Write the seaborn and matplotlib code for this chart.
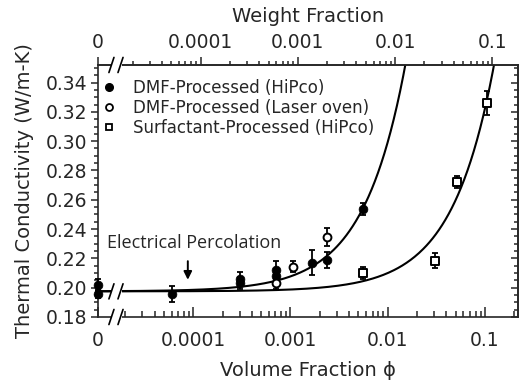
import numpy as np
import pandas as pd
import matplotlib
matplotlib.use("Agg")
import matplotlib.pyplot as plt
from matplotlib.lines import Line2D
from matplotlib.patches import Rectangle
from matplotlib.ticker import FixedLocator, NullFormatter
import seaborn as sns

# values (volume fraction, conductivity W/m-K, error)
dmf_hipco_phi = [0, 0, 6.0e-5, 3.0e-4, 3.0e-4, 7.1e-4, 7.1e-4, 1.66e-3, 2.37e-3, 5.62e-3]
dmf_hipco_k = [0.2019, 0.1957, 0.1957, 0.2060, 0.2030, 0.2120, 0.2080, 0.2170, 0.2189, 0.2536]
dmf_hipco_err = [0.004, 0.003, 0.0055, 0.005, 0.004, 0.006, 0.005, 0.0085, 0.0055, 0.004]

laser_phi = [7.1e-4, 1.07e-3, 2.37e-3]
laser_k = [0.2030, 0.2144, 0.2344]
laser_err = [0.004, 0.004, 0.006]

surf_phi = [5.62e-3, 0.0307, 0.052, 0.1045]
surf_k = [0.2098, 0.2185, 0.272, 0.326]
surf_err = [0.004, 0.005, 0.004, 0.008]

# linear fits k = k0 + a*phi
fit_k0 = 0.1975
fit_slope_dmf = 10.2
fit_slope_surf = 1.25

x_ticklabels = ['0', '0.0001', '0.001', '0.01', '0.1']
y_ticks = [0.18, 0.20, 0.22, 0.24, 0.26, 0.28, 0.30, 0.32, 0.34]

phi_zero = 1.05e-5    # where "0" sits on the broken log axis
phi_max = 0.218
wt_ratio = 1.19       # volume fraction / weight fraction
percolation_phi = 8.8e-5

sns.set_style("ticks")
plt.rcParams['font.family'] = ['DejaVu Sans']
plt.rcParams['axes.linewidth'] = 1.2

fig = plt.figure(figsize=(5.21, 3.87), dpi=100)
ax = fig.add_axes([0.1881, 0.1809, 0.8061, 0.6512])
ax.set_xscale('log')
ax.set_xlim(phi_zero, phi_max)
ax.set_ylim(0.18, 0.352)

def xpos(p):
    p = np.asarray(p, dtype=float)
    return np.where(p == 0, phi_zero, p)

# fit curves
phi_line = np.logspace(np.log10(phi_zero), np.log10(phi_max), 400)
sns.lineplot(x=phi_line, y=fit_k0 + fit_slope_dmf * phi_line, color='black', lw=1.5, ax=ax)
sns.lineplot(x=phi_line, y=fit_k0 + fit_slope_surf * phi_line, color='black', lw=1.5, ax=ax)

# error bars + markers
for p, k, e in [(dmf_hipco_phi, dmf_hipco_k, dmf_hipco_err),
                (laser_phi, laser_k, laser_err),
                (surf_phi, surf_k, surf_err)]:
    ax.errorbar(xpos(p), k, yerr=e, fmt='none', ecolor='black', elinewidth=1.3,
                capsize=2.5, capthick=1.3, clip_on=False, zorder=3)

sns.scatterplot(x=xpos(dmf_hipco_phi), y=dmf_hipco_k, marker='o', s=40, color='black',
                edgecolor='black', ax=ax, clip_on=False, zorder=4)
sns.scatterplot(x=xpos(laser_phi), y=laser_k, marker='o', s=32, color='white',
                edgecolor='black', linewidth=1.4, ax=ax, clip_on=False, zorder=4)
sns.scatterplot(x=xpos(surf_phi), y=surf_k, marker='s', s=32, color='white',
                edgecolor='black', linewidth=1.4, ax=ax, clip_on=False, zorder=4)

# axis break marks
def break_mark(yfrac):
    ax.add_patch(Rectangle((0.030, yfrac - 0.016), 0.026, 0.032, transform=ax.transAxes,
                           facecolor='white', edgecolor='none', clip_on=False, zorder=5))
    for xc in (0.032, 0.0536):
        ax.plot([xc - 0.006, xc + 0.006], [yfrac - 0.030, yfrac + 0.030], color='black',
                lw=1.2, transform=ax.transAxes, clip_on=False, zorder=6)

break_mark(0.0)
break_mark(1.0)
break_mark((fit_k0 - 0.18) / (0.352 - 0.18))

# bottom axis
minor_phi = [m * 10.0 ** d for d in range(-5, 0) for m in range(2, 10)
             if 1.9e-5 < m * 10.0 ** d < phi_max]
ax.set_xticks([phi_zero, 1e-4, 1e-3, 1e-2, 1e-1])
ax.set_xticklabels(x_ticklabels)
ax.xaxis.set_minor_locator(FixedLocator(minor_phi))
ax.xaxis.set_minor_formatter(NullFormatter())
ax.tick_params(axis='x', which='both', direction='in', top=False, bottom=True,
               labelsize=13.5, pad=10, width=1.1)
ax.tick_params(axis='x', which='major', length=7)
ax.tick_params(axis='x', which='minor', length=4)

# left axis
ax.set_yticks(y_ticks)
ax.set_yticklabels([f'{v:.2f}' for v in y_ticks])
ax.yaxis.set_minor_locator(FixedLocator(np.arange(0.18, 0.352, 0.005)))
ax.tick_params(axis='y', which='both', direction='out', right=False, left=True,
               labelsize=13.5, pad=3, width=1.1)
ax.tick_params(axis='y', which='major', length=5)
ax.tick_params(axis='y', which='minor', length=3)

# right axis, ticks inside
secy = ax.secondary_yaxis('right')
secy.set_yticks(y_ticks)
secy.yaxis.set_minor_locator(FixedLocator(np.arange(0.18, 0.352, 0.005)))
secy.tick_params(axis='y', which='both', direction='in', labelright=False, width=1.1)
secy.tick_params(axis='y', which='major', length=5)
secy.tick_params(axis='y', which='minor', length=3)

# top axis: weight fraction
secx = ax.secondary_xaxis('top', functions=(lambda p: p / wt_ratio, lambda w: w * wt_ratio))
minor_w = [m * 10.0 ** d for d in range(-5, 0) for m in range(2, 10)
           if 1.9e-5 < m * 10.0 ** d < phi_max / wt_ratio]
secx.set_xticks([phi_zero / wt_ratio, 1e-4, 1e-3, 1e-2, 1e-1])
secx.set_xticklabels(x_ticklabels)
secx.xaxis.set_minor_locator(FixedLocator(minor_w))
secx.xaxis.set_minor_formatter(NullFormatter())
secx.tick_params(axis='x', which='both', direction='out', labelsize=13.5, pad=3, width=1.1)
secx.tick_params(axis='x', which='major', length=6)
secx.tick_params(axis='x', which='minor', length=3)
secx.set_xlabel('Weight Fraction', fontsize=14, labelpad=8)

ax.set_xlabel('Volume Fraction \u03d5', fontsize=14, labelpad=8)
ax.set_ylabel('Thermal Conductivity (W/m-K)', fontsize=14, labelpad=8)

# percolation annotation
ax.text(1.30e-5, 0.2305, 'Electrical Percolation', family=['Open Sans', 'DejaVu Sans'],
        fontsize=13, ha='left', va='center')
ax.annotate('', xy=(percolation_phi, 0.2035), xytext=(percolation_phi, 0.2200),
            arrowprops=dict(arrowstyle='-|>', color='black', lw=1.4, mutation_scale=12))

handles = [
    Line2D([], [], ls='none', marker='o', ms=5.5, mfc='black', mec='black'),
    Line2D([], [], ls='none', marker='o', ms=5, mfc='white', mec='black', mew=1.3),
    Line2D([], [], ls='none', marker='s', ms=5, mfc='white', mec='black', mew=1.3),
]
labels = ['DMF-Processed (HiPco)', 'DMF-Processed (Laser oven)', 'Surfactant-Processed (HiPco)']
ax.legend(handles, labels, loc='upper left', bbox_to_anchor=(-0.005, 0.97), frameon=False,
          fontsize=12, handlelength=0.8, handletextpad=1.0, labelspacing=0.12,
          borderaxespad=0.2, borderpad=0.2)

fig.savefig('out.png', dpi=100)
